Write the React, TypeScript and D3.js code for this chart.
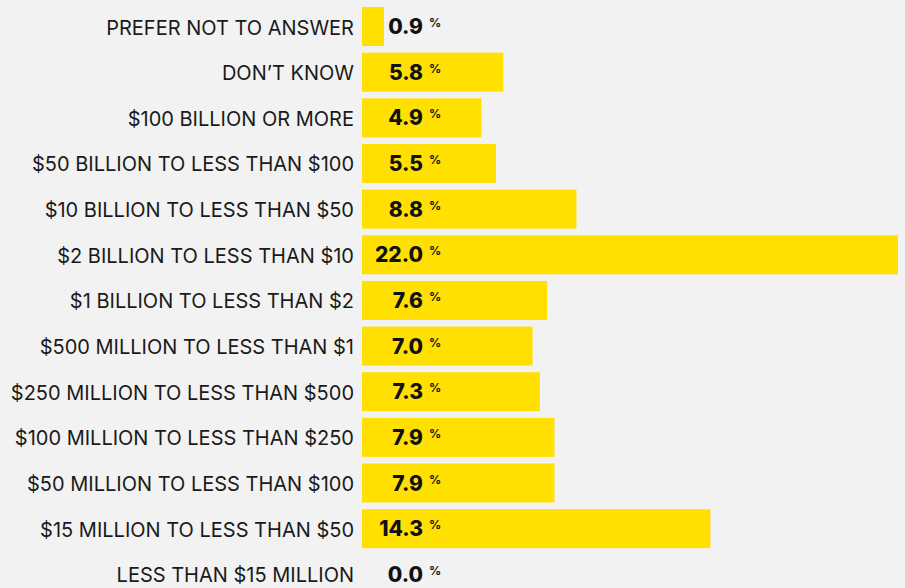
import React from "react";
import * as d3 from "d3";

const categories = [
  "PREFER NOT TO ANSWER",
  "DON\u2019T KNOW",
  "$100 BILLION OR MORE",
  "$50 BILLION TO LESS THAN $100",
  "$10 BILLION TO LESS THAN $50",
  "$2 BILLION TO LESS THAN $10",
  "$1 BILLION TO LESS THAN $2",
  "$500 MILLION TO LESS THAN $1",
  "$250 MILLION TO LESS THAN $500",
  "$100 MILLION TO LESS THAN $250",
  "$50 MILLION TO LESS THAN $100",
  "$15 MILLION TO LESS THAN $50",
  "LESS THAN $15 MILLION",
];
const values = [0.9, 5.8, 4.9, 5.5, 8.8, 22.0, 7.6, 7.0, 7.3, 7.9, 7.9, 14.3, 0.0];

const W = 905;
const H = 588;
const STEP = 45.65;

export default function App() {
  const x = d3.scaleLinear().domain([0, 22]).range([362, 898]);
  const y = d3
    .scaleBand<string>()
    .domain(categories)
    .range([3.7, 3.7 + STEP * categories.length])
    .paddingInner(0.146)
    .paddingOuter(0.073);
  const bw = y.bandwidth();
  return (
    <div style={{ position: "fixed", left: 0, top: 0, width: W, height: H, background: "#f2f2f2" }}>
      <svg width={W} height={H} style={{ display: "block" }}>
        {categories.map((c, i) => {
          const yy = y(c)!;
          const cy = yy + bw / 2;
          return (
            <g key={c}>
              <rect x={x(0)} y={yy} width={x(values[i]) - x(0)} height={bw} fill="#ffe000" />
              <text
                x={354}
                y={cy + 8}
                textAnchor="end"
                fontFamily="Inter, sans-serif"
                fontSize={20}
                fill="#1a1a1a"
              >
                {c}
              </text>
              <text
                x={423}
                y={cy + 7.5}
                textAnchor="end"
                fontFamily="Inter, sans-serif"
                fontWeight="800"
                fontSize={21}
                fill="#111"
              >
                {values[i].toFixed(1)}
              </text>
              <text
                x={429}
                y={cy + 0.5}
                textAnchor="start"
                fontFamily="Inter, sans-serif"
                fontWeight="700"
                fontSize={12}
                fill="#111"
              >
                %
              </text>
            </g>
          );
        })}
      </svg>
    </div>
  );
}
